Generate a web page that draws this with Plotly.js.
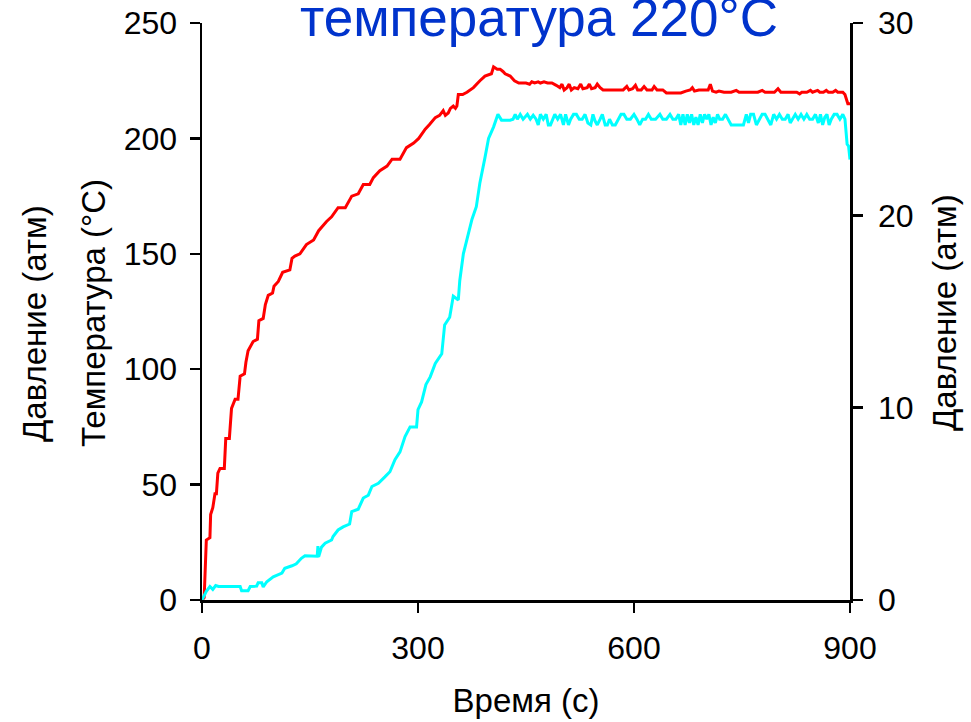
<!DOCTYPE html>
<html>
<head>
<meta charset="utf-8">
<script src="https://cdn.plot.ly/plotly-3.0.1.min.js"></script>
<style>html,body{margin:0;padding:0;background:#fff;}#chart{width:971px;height:722px;}</style>
</head>
<body>
<div id="chart"></div>
<script>
// Temperature (°C), left axis
const timeT = [0,3,6,11,12,15,18,20,22,25,31,33,38,41,46,50,53,59,61,64,71,77,79,85,88,92,98,100,106,112,122,125,129,136,145,155,162,173,180,189,199,208,217,224,233,238,247,257,264,275,284,294,301,310,316,324,330,335,338,342,345,349,352,354,356,362,368,377,386,393,402,405,410,414,418,421,428,434,440,446,450,455,458,462,467,470,475,480,486,492,497,500,503,507,510,513,517,522,526,529,535,538,541,546,549,553,557,562,570,578,585,590,593,598,602,605,610,614,618,625,628,632,640,645,655,665,672,678,681,684,690,697,703,706,709,714,718,725,735,742,746,760,772,778,782,795,800,804,815,826,830,833,840,845,848,855,858,863,867,870,876,880,883,890,893,897,900];
const tempC = [0,1,26,27,37,40,46,46,55,57,57,70,70,83,87,87,97,98,103,108,112,113,121,122,128,132,133,136,138,142,143,148,149,150,154,156,160,164,166,170,170,175,176,180,180,183,186,188,191,191,196,198,200,204,206,209,210,212,210,211,213,214,213,214,219,219,220,222,225,227,228,231,230,230,229,228,227,225,224,224,224,223.5,224.5,224,224.5,224,224.5,224,224,223,222,223.5,221,222,223.5,221,222,221.5,223.5,221.5,222,223.5,221.5,222,223.5,222,221,221,221,221,221,222.5,221,221.5,223,221,221,222.5,221,221,222.5,221,221,219.7,219.7,219.7,220.5,221,222,220.5,221,221,221,223.5,220.5,220,220.5,220,220,220.8,220,220,220,220.8,220,220,221.5,220,220,220,219.3,220,220,220.8,220,220.8,220,220,220.8,220,220,220.8,220,220,219,215,215];

// Pressure (atm), right axis
const timeP = [0,6,11,15,19,23,53,55,64,67,76,78,83,85,90,99,111,115,125,131,138,143,160,161,162,166,171,180,182,189,196,205,208,217,224,231,236,245,254,261,268,275,282,289,298,300,305,311,317,324,333,337,344,349,356,358,363,370,375,381,386,393,398,405,411,416,428,432,435,438,442,446,452,456,460,464,467,470,474,478,481,484,487,490,494,498,502,505,509,512,516,520,524,528,532,536,540,543,546,549,553,556,560,563,566,570,574,578,582,586,590,595,600,604,608,612,616,620,624,630,636,640,645,650,654,658,662,665,668,671,674,677,680,683,686,689,692,695,698,701,704,707,710,713,716,719,723,727,731,735,740,746,752,756,759,762,766,770,774,778,782,786,790,794,798,802,806,810,814,817,820,824,828,832,836,840,844,848,852,856,859,862,865,868,871,874,878,882,886,890,893,896,898,900];
const pressAtm = [0,0.45,0.7,0.55,0.75,0.7,0.7,0.48,0.48,0.7,0.72,0.9,0.9,0.68,0.95,1.2,1.4,1.65,1.78,1.88,2.17,2.3,2.28,2.8,2.25,2.75,2.95,3.12,3.3,3.64,3.8,3.95,4.6,4.72,5.3,5.45,5.9,6.07,6.4,6.67,7.3,7.7,8.5,9.0,9.0,9.9,10.3,11.2,11.6,12.3,12.8,14.3,14.7,15.8,15.6,16.6,18.0,19.0,19.8,20.45,21.7,23.0,24.0,24.6,25.25,24.95,24.95,25.0,25.25,25.0,25.25,25.0,25.25,25.0,25.2,25.0,24.7,25.25,25.0,25.25,24.7,24.7,25.0,25.25,25.0,25.25,24.7,25.25,24.7,25.0,25.25,25.25,25.0,25.0,25.25,24.8,24.7,25.25,24.9,24.7,25.0,25.25,24.7,24.7,25.0,24.7,24.7,25.0,25.25,25.25,25.0,25.0,25.25,25.0,24.7,25.0,25.0,25.25,25.0,25.0,25.25,25.0,25.0,25.25,25.0,25.0,25.25,24.7,25.25,24.7,25.25,24.8,25.25,24.7,25.1,24.7,25.25,24.8,25.25,25.0,25.25,24.7,25.1,24.8,25.25,25.0,25.0,25.25,25.0,24.7,24.7,24.7,24.7,25.25,24.8,25.25,25.25,24.7,25.0,25.25,25.25,25.0,24.7,25.25,25.0,25.25,25.0,25.0,25.25,24.8,25.0,25.25,25.0,25.25,25.0,25.25,25.0,25.0,25.25,24.8,25.25,24.7,25.1,25.25,24.7,25.0,25.25,25.25,25.0,25.25,25.0,23.7,23.6,22.9];

const xTicks = [0,300,600,900];
const yTicks = [0,50,100,150,200,250];
const y2Ticks = [0,10,20,30];

const FONT = '"Liberation Sans", Arial, Helvetica, sans-serif';

const traces = [
  {x: timeT, y: tempC, type: 'scatter', mode: 'lines', line: {color: '#ff0000', width: 3}, yaxis: 'y', showlegend: false, hoverinfo: 'skip'},
  {x: timeP, y: pressAtm, type: 'scatter', mode: 'lines', line: {color: '#00ffff', width: 3}, yaxis: 'y2', showlegend: false, hoverinfo: 'skip'}
];

const axisCommon = {
  showgrid: false, zeroline: false, showline: true, linecolor: '#000', linewidth: 2.5,
  ticks: 'outside', ticklen: 10, tickwidth: 2.5, tickcolor: '#000',
  tickfont: {family: FONT, size: 32, color: '#000'}, fixedrange: true
};

const layout = {
  width: 971, height: 722,
  margin: {l: 202, r: 121, t: 23, b: 122, pad: 0},
  paper_bgcolor: '#fff', plot_bgcolor: '#fff',
  font: {family: FONT, color: '#000'},
  xaxis: Object.assign({}, axisCommon, {range: [0, 900], tickvals: xTicks, ticktext: xTicks.map(String), ticklabelstandoff: 8,
    title: {text: 'Время (с)', font: {family: FONT, size: 33, color: '#000'}, standoff: 24}}),
  yaxis: Object.assign({}, axisCommon, {range: [0, 250], tickvals: yTicks, ticktext: yTicks.map(String), ticklabelstandoff: 6}),
  yaxis2: Object.assign({}, axisCommon, {range: [0, 30], tickvals: y2Ticks, ticktext: y2Ticks.map(String), overlaying: 'y', side: 'right', ticklabelstandoff: 9}),
  annotations: [
    {text: 'температура 220°C', xref: 'paper', yref: 'paper', x: (539 - 202) / 648, y: 1.0095, xanchor: 'center', yanchor: 'middle', showarrow: false,
     font: {family: FONT, size: 53, color: '#0033cc'}},
    {text: 'Давление (атм)', xref: 'paper', yref: 'paper', x: (34 - 202) / 648, y: (600 - 324) / 577, xanchor: 'center', yanchor: 'middle', textangle: -90, showarrow: false,
     font: {family: FONT, size: 33, color: '#000'}},
    {text: 'Температура (°C)', xref: 'paper', yref: 'paper', x: (93 - 202) / 648, y: (600 - 313) / 577, xanchor: 'center', yanchor: 'middle', textangle: -90, showarrow: false,
     font: {family: FONT, size: 33, color: '#000'}},
    {text: 'Давление (атм)', xref: 'paper', yref: 'paper', x: (944 - 202) / 648, y: (600 - 313) / 577, xanchor: 'center', yanchor: 'middle', textangle: -90, showarrow: false,
     font: {family: FONT, size: 33, color: '#000'}}
  ]
};

Plotly.newPlot('chart', traces, layout, {staticPlot: true, displayModeBar: false});
</script>
</body>
</html>
